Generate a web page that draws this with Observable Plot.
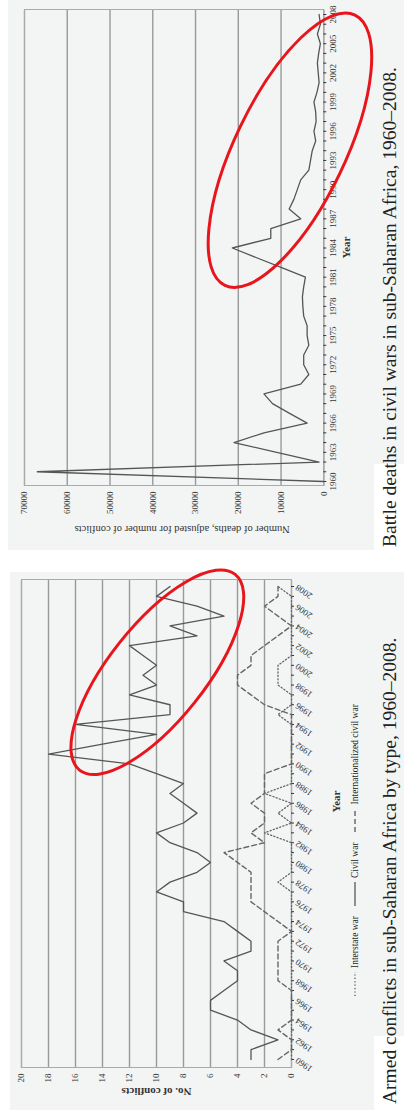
<!DOCTYPE html>
<html><head><meta charset="utf-8">
<script src="https://cdn.jsdelivr.net/npm/d3@7"></script>
<script src="https://cdn.jsdelivr.net/npm/@observablehq/plot@0.6"></script>
<style>
html,body{margin:0;padding:0;background:#fff;width:404px;height:1114px;overflow:hidden}
#page{position:absolute;left:0;top:0;width:1114px;height:404px;transform-origin:0 0;transform:translate(0,1114px) rotate(-90deg);font-family:"Liberation Serif","DejaVu Serif",serif;color:#222}
.panel{position:absolute;background:#f3f5f5}
.notch{position:absolute;background:#fff}
.chart{position:absolute;top:0}
.cap{position:absolute;font-size:19.5px;white-space:nowrap;line-height:22px}
.legend{position:absolute;font-size:9.5px;white-space:nowrap;display:flex;gap:10px;align-items:center}
.legend span{display:inline-flex;align-items:center;gap:4px}
</style></head>
<body>
<div id="page">
  <div class="panel" style="left:4px;top:10px;width:538px;height:394px"></div>
  <div class="notch" style="left:4px;top:374px;width:74px;height:30px"></div>
  <div class="panel" style="left:564px;top:8px;width:550px;height:396px"></div>
  <div class="notch" style="left:564px;top:374px;width:86px;height:30px"></div>
  <div id="left" class="chart" style="left:0px"></div>
  <div id="right" class="chart" style="left:557px"></div>
  <div class="legend" id="legend" style="left:118px;top:350px"></div>
  <div class="cap" style="left:10px;top:379px">Armed conflicts in sub-Saharan Africa by type, 1960–2008.</div>
  <div class="cap" style="left:567px;top:379px">Battle deaths in civil wars in sub-Saharan Africa, 1960–2008.</div>
</div>
<script>
const years = d3.range(1960, 2009);
// 1960 … 2008
const civilWar   = [3,3,1,3,4,6,6,5,4,4,5,3,3,4,5,8,8,10,9,7,6,7,9,10,8,7,8,9,8,10,12,18,14,10,16,9,9,12,10,11,10,11,12,7,9,5,7,10,9];
const interstate = [0,0,0,0,0,0,0,0,0,0,0,0,0,0,0,0,0,0,1,0,0,0,0,2,0,1,0,2,0,0,0,0,0,0,0,1,0,0,1,1,1,0,0,0,0,0,0,0,1];
const intlCivil  = [1,0,0,1,0,0,0,0,1,1,1,1,1,0,1,2,3,3,3,3,4,5,2,3,2,2,3,2,2,2,0,0,0,0,0,0,2,3,4,4,3,3,2,1,0,1,2,1,1];
const deaths = [0,67000,1100,11000,21000,14000,3900,8000,12000,14000,5400,3500,4700,4700,3500,3900,3900,4700,4900,5000,4700,4300,10000,15700,21400,12400,12400,5400,8100,7000,6200,5400,3500,3100,2700,1900,2300,1800,1900,2300,1600,1100,1300,1500,1200,800,1500,800,1100];

const conflicts = years.map((year, i) => ({year, civil: civilWar[i], inter: interstate[i], intl: intlCivil[i]}));
const deathRows = years.map((year, i) => ({year, deaths: deaths[i]}));

const RED = "#e8161c";
function ellipse(cx, cy, rx, ry, angle) {
  return (index, scales) => {
    const x = scales.x(cx), y = scales.y(cy);
    return d3.create("svg:ellipse").attr("cx", x).attr("cy", y).attr("rx", rx).attr("ry", ry)
      .attr("transform", `rotate(${angle} ${x} ${y})`).attr("fill", "none")
      .attr("stroke", RED).attr("stroke-width", 3).node();
  };
}
const FONT = "Liberation Serif, DejaVu Serif, serif";

const left = Plot.plot({
  width: 557, height: 365,
  marginLeft: 46, marginRight: 23, marginTop: 21, marginBottom: 74,
  style: {background: "transparent", fontFamily: FONT, fontSize: "9px", color: "#333", overflow: "visible"},
  x: {domain: [1960, 2008], insetLeft: 8, insetRight: 7},
  y: {domain: [0, 20]},
  marks: [
    Plot.gridY(d3.range(0, 21, 2), {stroke: "#999", strokeOpacity: 1, strokeWidth: 1.4}),
    Plot.frame({stroke: "#aaa", strokeWidth: 1}),
    Plot.axisY(d3.range(0, 21, 2), {tickSize: 0, tickPadding: 6, label: null}),
    Plot.axisX(years, {tickSize: 3, tickFormat: d => d % 2 === 0 ? String(d) : "", tickRotate: -55, tickPadding: 2, label: null}),
    Plot.text(["No. of conflicts"], {frameAnchor: "left", dx: -24, rotate: -90, textAnchor: "middle", fontSize: 11, fontWeight: "bold", text: d => d}),
    Plot.text(["Year"], {frameAnchor: "bottom", dx: 22, dy: 48, fontSize: 11, fontWeight: "bold", text: d => d}),
    Plot.line(conflicts, {x: "year", y: "inter", stroke: "#666", strokeWidth: 1.3, strokeDasharray: "1.2,2.2"}),
    Plot.line(conflicts, {x: "year", y: "intl", stroke: "#666", strokeWidth: 1.4, strokeDasharray: "5,3"}),
    Plot.line(conflicts, {x: "year", y: "civil", stroke: "#555", strokeWidth: 1.3}),
    ellipse(1999.35, 9.9, 125, 48, 38.5)
  ]
});
document.getElementById("left").append(left);

const right = Plot.plot({
  width: 557, height: 365,
  marginLeft: 71, marginRight: 10, marginTop: 24, marginBottom: 41.7,
  style: {background: "transparent", fontFamily: FONT, fontSize: "9px", color: "#333", overflow: "visible"},
  x: {domain: [1960, 2008], insetLeft: 4, insetRight: 5},
  y: {domain: [0, 70000]},
  marks: [
    Plot.gridY(d3.range(0, 70001, 10000), {stroke: "#999", strokeOpacity: 1, strokeWidth: 1.4}),
    Plot.frame({stroke: "#aaa", strokeWidth: 1}),
    Plot.axisY(d3.range(0, 70001, 10000), {tickSize: 0, tickPadding: 6, tickFormat: d => String(d), label: null}),
    Plot.axisX(years, {tickSize: 3, tickFormat: d => (d - 1960) % 3 === 0 ? String(d) : "", tickPadding: 3, label: null}),
    Plot.text(["Number of deaths, adjusted for number of conflicts"], {frameAnchor: "left", dx: -44, dy: 8, rotate: -90, textAnchor: "middle", fontSize: 10.5, text: d => d}),
    Plot.text(["Year"], {frameAnchor: "bottom", dy: 26, fontSize: 11, fontWeight: "bold", text: d => d}),
    Plot.line(deathRows, {x: "year", y: "deaths", stroke: "#555", strokeWidth: 1.3}),
    ellipse(1994.1, 7800, 150, 55, 25.7)
  ]
});
document.getElementById("right").append(right);

const items = [["Interstate war", "1.2,2.2"], ["Civil war", null], ["Internationalized civil war", "5,3"]];
const lg = d3.select("#legend");
for (const [name, dash] of items) {
  const s = lg.append("span");
  const svg = s.append("svg").attr("width", 24).attr("height", 6);
  svg.append("line").attr("x1", 0).attr("x2", 24).attr("y1", 3).attr("y2", 3)
    .attr("stroke", "#555").attr("stroke-width", 1.3).attr("stroke-dasharray", dash);
  s.append("span").text(name);
}
</script>
</body></html>
